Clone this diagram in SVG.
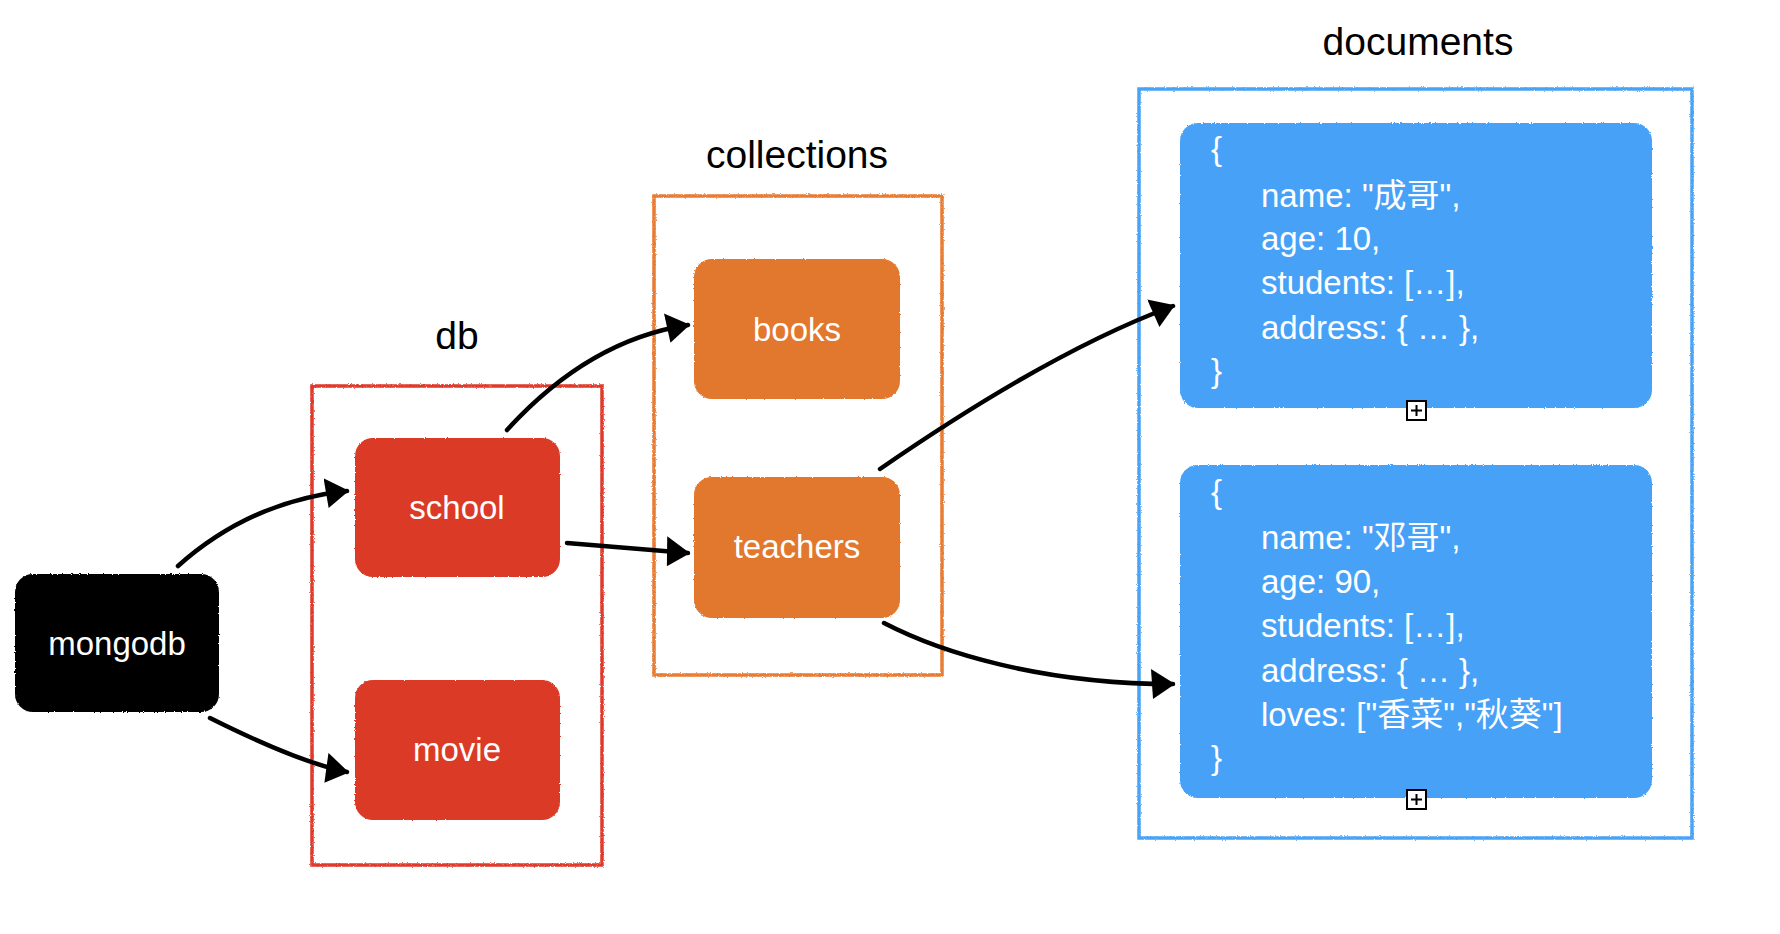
<svg xmlns="http://www.w3.org/2000/svg" width="1780" height="934" viewBox="0 0 1780 934">
<style>
text{font-family:"Liberation Sans","Noto Sans CJK SC",sans-serif}
.lbl{font-size:39px;fill:#000;text-anchor:middle}
.nt{font-size:33px;fill:#fff;text-anchor:middle}
.dt{font-size:33px;fill:#fff}
.cont{fill:none;stroke-width:3.5}
.conn{fill:none;stroke:#000;stroke-width:4.5;stroke-linecap:round}
.icon{fill:#fff;stroke:#000;stroke-width:2}
</style>
<defs>
<filter id="rough" x="-5%" y="-5%" width="110%" height="110%">
<feTurbulence type="fractalNoise" baseFrequency="0.9" numOctaves="2" seed="3" result="n"/>
<feDisplacementMap in="SourceGraphic" in2="n" scale="2.5" xChannelSelector="R" yChannelSelector="G"/>
</filter>
<marker id="ah" viewBox="0 0 24 30" refX="22" refY="15" markerWidth="24" markerHeight="30" markerUnits="userSpaceOnUse" orient="auto">
<path d="M0,0 L24,15 L2,30 Z" fill="#000"/>
</marker>
</defs>
<rect width="1780" height="934" fill="#fff"/>

<g id="db-group">
<rect class="cont" x="312" y="386" width="290" height="479" stroke="#E03B2C" filter="url(#rough)"/>
<text class="lbl" x="457" y="349">db</text>
</g>
<g id="collections-group">
<rect class="cont" x="654" y="196" width="288" height="479" stroke="#E87B32" filter="url(#rough)"/>
<text class="lbl" x="797" y="168">collections</text>
</g>
<g id="documents-group">
<rect class="cont" x="1139" y="89" width="553" height="749" stroke="#4AA3F5" filter="url(#rough)"/>
<text class="lbl" x="1418" y="55">documents</text>
</g>

<g id="mongodb">
<rect x="15" y="574" width="204" height="138" rx="18" fill="#000" filter="url(#rough)"/>
<text class="nt" x="117" y="655">mongodb</text>
</g>
<g id="school">
<rect x="355" y="438" width="205" height="139" rx="18" fill="#DB3A28" filter="url(#rough)"/>
<text class="nt" x="457" y="519">school</text>
</g>
<g id="movie">
<rect x="355" y="680" width="205" height="140" rx="18" fill="#DB3A28" filter="url(#rough)"/>
<text class="nt" x="457" y="761">movie</text>
</g>
<g id="books">
<rect x="694" y="259" width="206" height="140" rx="18" fill="#E2772F" filter="url(#rough)"/>
<text class="nt" x="797" y="341">books</text>
</g>
<g id="teachers">
<rect x="694" y="477" width="206" height="141" rx="18" fill="#E2772F" filter="url(#rough)"/>
<text class="nt" x="797" y="558">teachers</text>
</g>
<g id="doc1">
<rect x="1180" y="123" width="472" height="285" rx="18" fill="#46A2F7" filter="url(#rough)"/>
<text class="dt" x="1211" y="160">{</text>
<text class="dt" x="1261" y="207">name: "成哥",</text>
<text class="dt" x="1261" y="250">age: 10,</text>
<text class="dt" x="1261" y="294">students: […],</text>
<text class="dt" x="1261" y="339">address: { … },</text>
<text class="dt" x="1211" y="382">}</text>
<rect class="icon" x="1407" y="401" width="19" height="19"/>
<path d="M1411,410.5 H1422 M1416.5,405 V416" stroke="#000" stroke-width="2"/>
</g>
<g id="doc2">
<rect x="1180" y="465" width="472" height="333" rx="18" fill="#46A2F7" filter="url(#rough)"/>
<text class="dt" x="1211" y="503">{</text>
<text class="dt" x="1261" y="549">name: "邓哥",</text>
<text class="dt" x="1261" y="593">age: 90,</text>
<text class="dt" x="1261" y="637">students: […],</text>
<text class="dt" x="1261" y="682">address: { … },</text>
<text class="dt" x="1261" y="726">loves: ["香菜","秋葵"]</text>
<text class="dt" x="1211" y="769">}</text>
<rect class="icon" x="1407" y="790" width="19" height="19"/>
<path d="M1411,799.5 H1422 M1416.5,794 V805" stroke="#000" stroke-width="2"/>
</g>

<g id="connectors">
<path class="conn" d="M178,566 Q251,501 347,491" marker-end="url(#ah)"/>
<path class="conn" d="M210,718 Q298,762 347,772" marker-end="url(#ah)"/>
<path class="conn" d="M507,430 Q589,340 688,325" marker-end="url(#ah)"/>
<path class="conn" d="M567,543 Q625,548 688,553" marker-end="url(#ah)"/>
<path class="conn" d="M880,469 Q1051,351 1173,306" marker-end="url(#ah)"/>
<path class="conn" d="M884,623 C940,652 1040,684 1173,684" marker-end="url(#ah)"/>
</g>
</svg>
